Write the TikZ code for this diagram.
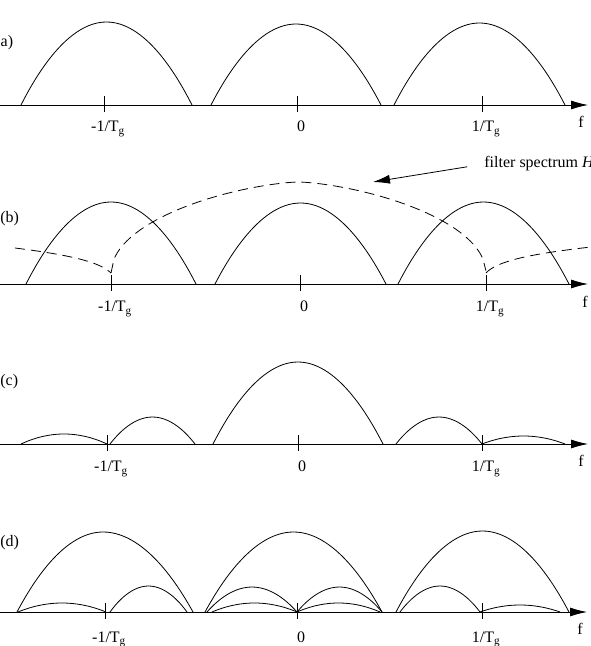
\documentclass[tikz,border=0pt]{standalone}
\usepackage{fontspec}
\setmainfont{Liberation Serif}
\usetikzlibrary{arrows.meta}

\begin{document}
\begin{tikzpicture}[x=1pt,y=1pt,>={Latex[length=17pt,width=9pt]},line width=0.8pt,
	font=\fontsize{16}{19}\selectfont,
	filterline/.style={dash pattern=on 10pt off 6pt},
	ticklbl/.style={anchor=base,inner sep=0pt,xshift=4pt},
	flbl/.style={anchor=base,inner sep=0pt},
	panel/.style={anchor=west,inner sep=0pt}]
	\useasboundingbox (0,0) rectangle (591,646);

	% (a) sampled spectrum
	\begin{scope}[shift={(0,541)}]
		\coordinate (a_start) at (0,0);
		\coordinate (a_end) at (588,0);
		\draw[->] (a_start) -- (a_end);
		\draw (104,9) -- (104,-7);
		\draw (297,9) -- (297,-7);
		\draw (482,9) -- (482,-7);
		\draw (21,0) parabola bend (106.5,83) (192,0);
		\draw (211,0) parabola bend (296,81) (381,0);
		\draw (394,0) parabola bend (479.5,82) (565,0);
		\node[panel] (a_name) at (-5,62) {(a)};
		\node[ticklbl] (a_lm1) at (104,-27) {-1/T\textsubscript{g}};
		\node[ticklbl] (a_l0) at (297,-27) {0};
		\node[ticklbl] (a_lp1) at (482,-27) {1/T\textsubscript{g}};
		\node[flbl] (a_f) at (581,-23) {f};
	\end{scope}

	% (b) with filter spectrum
	\begin{scope}[shift={(0,362)}]
		\coordinate (b_start) at (0,0);
		\coordinate (b_end) at (588,0);
		\draw[->] (b_start) -- (b_end);
		\draw (111,9) -- (111,-7);
		\draw (300,9) -- (300,-7);
		\draw (486,9) -- (486,-7);
		\draw (26,0) parabola bend (111,82) (196,0);
		\draw (215,0) parabola bend (300.5,81) (386,0);
		\draw (398,0) parabola bend (483.5,82) (569,0);
		\draw[filterline] plot[domain=-1:1,samples=121]
			({298.5+187.5*\x},{11+91*sqrt(max(0,1-abs(\x)*sqrt(abs(\x))))});
		\draw[filterline] (15,36) .. controls (70,29) and (100,22) .. (111,11);
		\draw[filterline] (486,11) .. controls (497,23) and (530,30) .. (591,37);
		\node[panel] (b_name) at (0,65) {(b)};
		\node[anchor=base west,inner sep=0pt] (filterlbl) at (484,116) {filter spectrum \textit{H}};
		\coordinate (filtertip) at (373,102);
		\draw[->,shorten <=17pt] (filterlbl.west) -- (filtertip);
		\node[ticklbl] (b_lm1) at (111,-28) {-1/T\textsubscript{g}};
		\node[ticklbl] (b_l0) at (300,-28) {0};
		\node[ticklbl] (b_lp1) at (486,-28) {1/T\textsubscript{g}};
		\node[flbl] (b_f) at (585,-24) {f};
	\end{scope}

	% (c) filtered spectrum
	\begin{scope}[shift={(0,202)}]
		\coordinate (c_start) at (0,0);
		\coordinate (c_end) at (588,0);
		\draw[->] (c_start) -- (c_end);
		\draw (107,9) -- (107,-7);
		\draw (298,9) -- (298,-7);
		\draw (482,9) -- (482,-7);
		\draw (21,0) parabola bend (64,10) (107,0);
		\draw (110,0) parabola bend (152.5,27) (195,0);
		\draw (213,0) parabola bend (298,82) (383,0);
		\draw (396,0) parabola bend (439,27) (482,0);
		\draw (482,0) parabola bend (523.5,8) (565,0);
		\node[panel] (c_name) at (0,62) {(c)};
		\node[ticklbl] (c_lm1) at (107,-28) {-1/T\textsubscript{g}};
		\node[ticklbl] (c_l0) at (298,-28) {0};
		\node[ticklbl] (c_lp1) at (482,-28) {1/T\textsubscript{g}};
		\node[flbl] (c_f) at (581,-23) {f};
	\end{scope}

	% (d) sampled again
	\begin{scope}[shift={(0,34)}]
		\coordinate (d_start) at (0,0);
		\coordinate (d_end) at (587,0);
		\draw[->] (d_start) -- (d_end);
		\draw (105,9) -- (105,-7);
		\draw (297,9) -- (297,-7);
		\draw (482,9) -- (482,-7);
		\draw (17,0) parabola bend (103,80) (193,0);
		\draw (205,0) parabola bend (293.5,80) (382,0);
		\draw (396,0) parabola bend (482.5,81) (569,0);
		\draw (110,0) parabola bend (148.5,26) (187,0);
		\draw (207,0) parabola bend (252,25) (297,0);
		\draw (297,0) parabola bend (339.5,25) (382,0);
		\draw (400,0) parabola bend (440,26) (480,0);
		\draw (18,0) parabola bend (62,9) (106,0);
		\draw (212,0) parabola bend (254.5,9) (297,0);
		\draw (297,0) parabola bend (338.5,9) (380,0);
		\draw (480,0) parabola bend (520,7) (560,0);
		\node[panel] (d_name) at (0,69) {(d)};
		\node[ticklbl] (d_lm1) at (105,-30) {-1/T\textsubscript{g}};
		\node[ticklbl] (d_l0) at (297,-30) {0};
		\node[ticklbl] (d_lp1) at (482,-30) {1/T\textsubscript{g}};
		\node[flbl] (d_f) at (580,-23) {f};
	\end{scope}
\end{tikzpicture}
\end{document}
